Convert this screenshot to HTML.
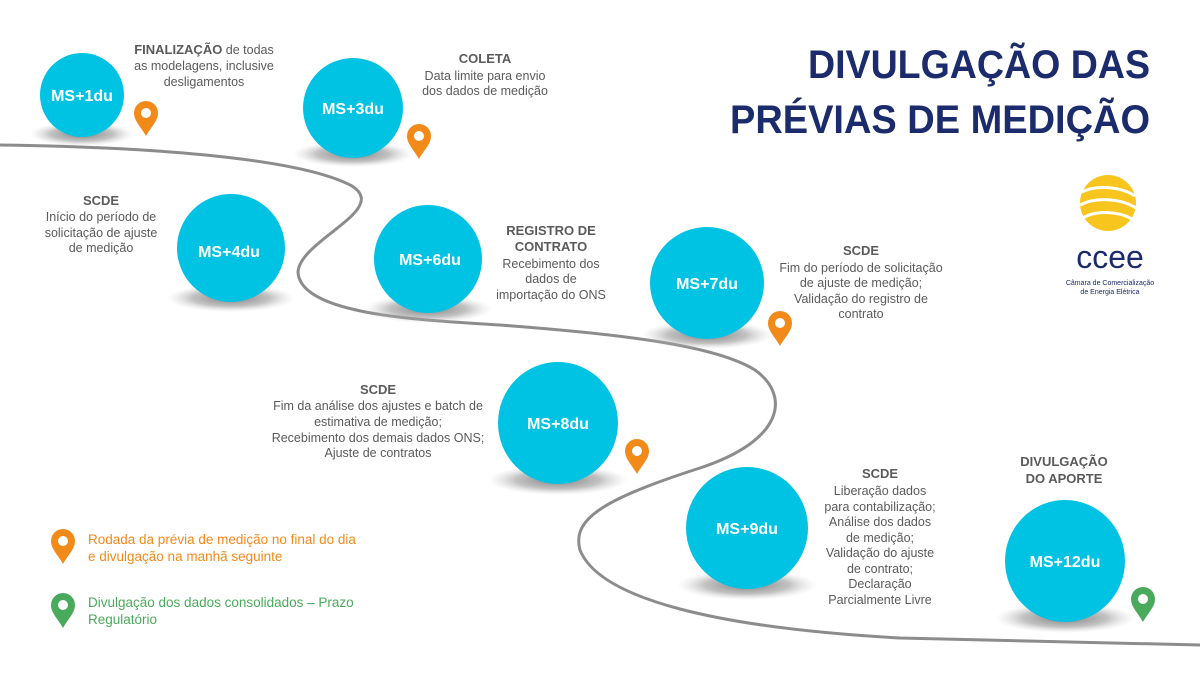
<!DOCTYPE html>
<html><head><meta charset="utf-8"><style>
html,body{margin:0;padding:0;background:#fff;}
svg{display:block;font-family:"Liberation Sans",sans-serif;}
.t{fill:#5a5a5a;font-size:12.5px;text-anchor:middle;}
.b{font-weight:bold;font-size:13px;}
.c{fill:#fff;font-weight:bold;font-size:16px;text-anchor:middle;}
</style></head><body>
<svg width="1200" height="680" viewBox="0 0 1200 680" xmlns="http://www.w3.org/2000/svg">
<defs>
<radialGradient id="sh" cx="50%" cy="50%" r="50%">
<stop offset="0" stop-color="#777" stop-opacity="0.95"/>
<stop offset="0.6" stop-color="#999" stop-opacity="0.6"/>
<stop offset="1" stop-color="#ccc" stop-opacity="0"/>
</radialGradient>
<g id="pin"><path d="M0,34 C-5,25 -12,19 -12,11 A12,12 0 1 1 12,11 C12,19 5,25 0,34Z"/><circle cx="0" cy="11" r="5" fill="#fff"/></g>
</defs>
<rect width="1200" height="680" fill="#fff"/>
<path d="M0,145 C150,147 300,158 352,186 C390,210 300,240 298,272 C300,315 420,320 500,325 C620,334 715,345 755,370 C790,395 785,440 700,468 C600,500 572,520 580,550 C600,600 720,628 900,638 L1200,645" fill="none" stroke="#8c8c8c" stroke-width="3"/>

<g>
<ellipse cx="82" cy="134" rx="52" ry="12" fill="url(#sh)"/>
<ellipse cx="82" cy="95" rx="42" ry="42" fill="#00c2e3"/>
<text class="c" x="82" y="101">MS+1du</text>

<ellipse cx="353" cy="154" rx="60" ry="13" fill="url(#sh)"/>
<ellipse cx="353" cy="108" rx="50" ry="50" fill="#00c2e3"/>
<text class="c" x="353" y="114">MS+3du</text>

<ellipse cx="231" cy="298" rx="64" ry="14" fill="url(#sh)"/>
<ellipse cx="231" cy="248" rx="54" ry="54" fill="#00c2e3"/>
<text class="c" x="229" y="257">MS+4du</text>

<ellipse cx="428" cy="309" rx="64" ry="14" fill="url(#sh)"/>
<ellipse cx="428" cy="259" rx="54" ry="54" fill="#00c2e3"/>
<text class="c" x="430" y="265">MS+6du</text>

<ellipse cx="707" cy="335" rx="66" ry="14" fill="url(#sh)"/>
<ellipse cx="707" cy="283" rx="57" ry="56" fill="#00c2e3"/>
<text class="c" x="707" y="289">MS+7du</text>

<ellipse cx="558" cy="480" rx="70" ry="15" fill="url(#sh)"/>
<ellipse cx="558" cy="423" rx="60" ry="61" fill="#00c2e3"/>
<text class="c" x="558" y="429">MS+8du</text>

<ellipse cx="747" cy="585" rx="70" ry="15" fill="url(#sh)"/>
<ellipse cx="747" cy="528" rx="61" ry="61" fill="#00c2e3"/>
<text class="c" x="747" y="534">MS+9du</text>

<ellipse cx="1065" cy="618" rx="70" ry="15" fill="url(#sh)"/>
<ellipse cx="1065" cy="561" rx="60" ry="61" fill="#00c2e3"/>
<text class="c" x="1065" y="567">MS+12du</text>
</g>

<use href="#pin" x="146" y="102" fill="#f28a1a"/>
<use href="#pin" x="419" y="125" fill="#f28a1a"/>
<use href="#pin" x="780" y="312" fill="#f28a1a"/>
<use href="#pin" x="637" y="440" fill="#f28a1a"/>
<use href="#pin" x="1143" y="588" fill="#4aaa5c"/>
<use href="#pin" x="63" y="530" fill="#f28a1a"/>
<use href="#pin" x="63" y="594" fill="#4aaa5c"/>

<text class="t" x="204" y="54"><tspan class="b">FINALIZAÇÃO</tspan> de todas</text>
<text class="t" x="204" y="70">as modelagens, inclusive</text>
<text class="t" x="204" y="86">desligamentos</text>

<text class="t" x="485" y="63"><tspan class="b">COLETA</tspan></text>
<text class="t" x="485" y="80">Data limite para envio</text>
<text class="t" x="485" y="95">dos dados de medição</text>

<text class="t" x="101" y="205"><tspan class="b">SCDE</tspan></text>
<text class="t" x="101" y="221">Início do período de</text>
<text class="t" x="101" y="237">solicitação de ajuste</text>
<text class="t" x="101" y="252">de medição</text>

<text class="t" x="551" y="235"><tspan class="b">REGISTRO DE</tspan></text>
<text class="t" x="551" y="251"><tspan class="b">CONTRATO</tspan></text>
<text class="t" x="551" y="268">Recebimento dos</text>
<text class="t" x="551" y="283">dados de</text>
<text class="t" x="551" y="299">importação do ONS</text>

<text class="t" x="861" y="255"><tspan class="b">SCDE</tspan></text>
<text class="t" x="861" y="272">Fim do período de solicitação</text>
<text class="t" x="861" y="287">de ajuste de medição;</text>
<text class="t" x="861" y="303">Validação do registro de</text>
<text class="t" x="861" y="318">contrato</text>

<text class="t" x="378" y="394"><tspan class="b">SCDE</tspan></text>
<text class="t" x="378" y="410">Fim da análise dos ajustes e batch de</text>
<text class="t" x="378" y="426">estimativa de medição;</text>
<text class="t" x="378" y="442">Recebimento dos demais dados ONS;</text>
<text class="t" x="378" y="457">Ajuste de contratos</text>

<text class="t" x="880" y="478"><tspan class="b">SCDE</tspan></text>
<text class="t" x="880" y="495">Liberação dados</text>
<text class="t" x="880" y="511">para contabilização;</text>
<text class="t" x="880" y="526">Análise dos dados</text>
<text class="t" x="880" y="542">de medição;</text>
<text class="t" x="880" y="557">Validação do ajuste</text>
<text class="t" x="880" y="573">de contrato;</text>
<text class="t" x="880" y="588">Declaração</text>
<text class="t" x="880" y="604">Parcialmente Livre</text>

<text class="t" x="1064" y="466"><tspan class="b">DIVULGAÇÃO</tspan></text>
<text class="t" x="1064" y="483"><tspan class="b">DO APORTE</tspan></text>

<text x="88" y="544" fill="#f28a1a" font-size="13.5">Rodada da prévia de medição no final do dia</text>
<text x="88" y="561" fill="#f28a1a" font-size="13.5">e divulgação na manhã seguinte</text>
<text x="88" y="607" fill="#4aaa5c" font-size="13.5">Divulgação dos dados consolidados – Prazo</text>
<text x="88" y="624" fill="#4aaa5c" font-size="13.5">Regulatório</text>

<text x="1150" y="78" text-anchor="end" font-weight="bold" font-size="40" fill="#1b2b6b" textLength="342" lengthAdjust="spacingAndGlyphs">DIVULGAÇÃO DAS</text>
<text x="1150" y="133" text-anchor="end" font-weight="bold" font-size="40" fill="#1b2b6b" textLength="420" lengthAdjust="spacingAndGlyphs">PRÉVIAS DE MEDIÇÃO</text>

<g>
<circle cx="1108" cy="203" r="28" fill="#f7c51e"/>
<path d="M1082,192 C1095,185 1120,186 1135,196" stroke="#fff" stroke-width="3" fill="none"/>
<path d="M1080,205 C1095,197 1120,198 1136,208" stroke="#fff" stroke-width="3" fill="none"/>
<path d="M1083,218 C1095,210 1118,211 1132,219" stroke="#fff" stroke-width="3" fill="none"/>
<text x="1110" y="268" text-anchor="middle" font-size="32" fill="#1b2b6b">ccee</text>
<text x="1110" y="285" text-anchor="middle" font-size="7" fill="#1b2b6b">Câmara de Comercialização</text>
<text x="1110" y="294" text-anchor="middle" font-size="7" fill="#1b2b6b">de Energia Elétrica</text>
</g>
</svg>
</body></html>
